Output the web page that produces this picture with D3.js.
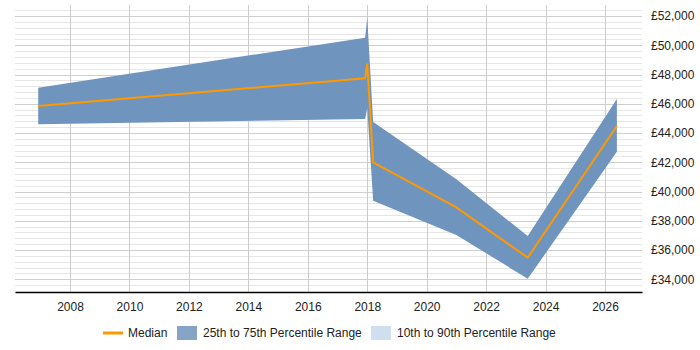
<!DOCTYPE html>
<html>
<head>
<meta charset="utf-8">
<script src="https://cdn.jsdelivr.net/npm/d3@7"></script>
<style>
  body { margin: 0; background: #fff; }
  text { font-family: "Liberation Sans", Arial, sans-serif; }
</style>
</head>
<body>
<div id="chart-area"></div>
<script>
// Data (decimal years, salary in £)
const years  = [2006.93, 2017.93, 2018.0, 2018.2, 2021.0, 2023.4, 2026.4];
const median = [45850, 47740, 48750, 42000, 38920, 35480, 44480];
const q75    = [47100, 50520, 51910, 44750, 40840, 36960, 46330];
const q25    = [44600, 44960, 45710, 39370, 37030, 34040, 42720];
const xTicks = [2008, 2010, 2012, 2014, 2016, 2018, 2020, 2022, 2024, 2026];
const yTicks = [34000, 36000, 38000, 40000, 42000, 44000, 46000, 48000, 50000, 52000];
const legendItems = ["Median", "25th to 75th Percentile Range", "10th to 90th Percentile Range"];

// Dimensions
const W = 700, H = 350;
const plot = { left: 15, right: 642, top: 5, bottom: 292 };

const svg = d3.select("#chart-area")
  .append("svg")
    .attr("width", W)
    .attr("height", H);

const x = d3.scaleLinear()
  .domain([2006.149, 2027.245])
  .range([plot.left, plot.right]);

const y = d3.scaleLinear()
  .domain([33132, 52752])
  .range([plot.bottom, plot.top]);

const rows = years.map((yr, i) => ({ yr: yr, med: median[i], lo: q25[i], hi: q75[i] }));

// Gridlines - minor horizontal
const grid = svg.append("g");
grid.selectAll(".minor")
  .data(d3.range(33600, 52800, 400).filter(v => v % 2000 !== 0))
  .enter().append("line")
    .attr("x1", plot.left).attr("x2", plot.right)
    .attr("y1", d => Math.round(y(d)) + 0.5)
    .attr("y2", d => Math.round(y(d)) + 0.5)
    .attr("stroke", "#e6e6e6");

// major horizontal
grid.selectAll(".major")
  .data(yTicks)
  .enter().append("line")
    .attr("x1", plot.left).attr("x2", plot.right)
    .attr("y1", d => Math.round(y(d)) + 0.5)
    .attr("y2", d => Math.round(y(d)) + 0.5)
    .attr("stroke", "#cfcfcf");

// vertical
grid.selectAll(".vert")
  .data(xTicks)
  .enter().append("line")
    .attr("x1", d => Math.round(x(d)) + 0.5)
    .attr("x2", d => Math.round(x(d)) + 0.5)
    .attr("y1", plot.top).attr("y2", plot.bottom)
    .attr("stroke", "#cccccc");

// 25-75 band
const area = d3.area()
  .x(d => x(d.yr))
  .y0(d => y(d.lo))
  .y1(d => y(d.hi));

svg.append("path")
  .datum(rows)
  .attr("d", area)
  .attr("fill", "#6f94bd");

// Median line
const line = d3.line()
  .x(d => x(d.yr))
  .y(d => y(d.med));

svg.append("path")
  .datum(rows)
  .attr("d", line)
  .attr("fill", "none")
  .attr("stroke", "#ff9900")
  .attr("stroke-width", 2);

// X axis
const xAxis = d3.axisBottom(x)
  .tickValues(xTicks)
  .tickFormat(d3.format("d"))
  .tickSize(0)
  .tickPadding(10);

const xg = svg.append("g")
  .attr("transform", "translate(0," + plot.bottom + ")")
  .call(xAxis);
xg.select(".domain").attr("stroke", "#000").attr("stroke-width", 1.5);
xg.selectAll("text").attr("font-size", "12px").attr("fill", "#222")
  .style("font-family", "'Liberation Sans', Arial, sans-serif");

// Y axis (right)
const yAxis = d3.axisRight(y)
  .tickValues(yTicks)
  .tickFormat(d => "£" + d3.format(",")(d))
  .tickSize(0)
  .tickPadding(9);

const yg = svg.append("g")
  .attr("transform", "translate(" + plot.right + ",0)")
  .call(yAxis);
yg.select(".domain").remove();
yg.selectAll("text").attr("font-size", "12px").attr("fill", "#222")
  .style("font-family", "'Liberation Sans', Arial, sans-serif");

// Legend
const legend = svg.append("g").attr("transform", "translate(0,333)");
const lx = [103, 177, 371];

legend.append("line")
  .attr("x1", lx[0]).attr("x2", lx[0] + 20)
  .attr("y1", 0).attr("y2", 0)
  .attr("stroke", "#ff9900").attr("stroke-width", 3);

legend.append("rect")
  .attr("x", lx[1]).attr("y", -7)
  .attr("width", 20).attr("height", 14)
  .attr("fill", "#86a4c6");

legend.append("rect")
  .attr("x", lx[2]).attr("y", -7)
  .attr("width", 20).attr("height", 14)
  .attr("fill", "#cfdff0");

legendItems.forEach((label, i) => {
  legend.append("text")
    .attr("x", lx[i] + (i === 0 ? 25 : 26))
    .attr("y", 4)
    .attr("font-size", "12px")
    .attr("fill", "#222")
    .text(label);
});
</script>
</body>
</html>
